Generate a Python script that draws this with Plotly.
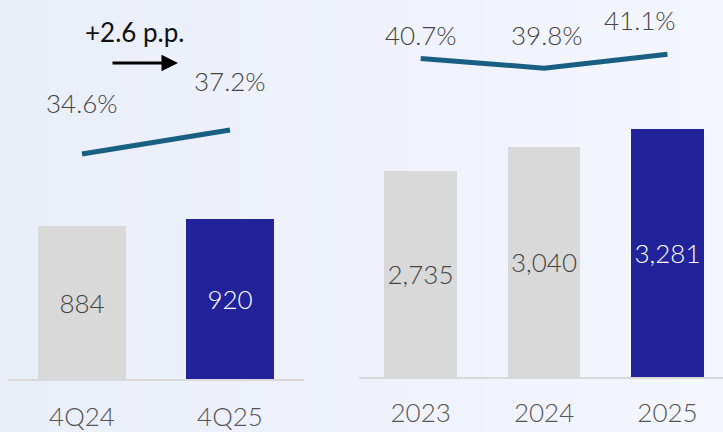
import plotly.graph_objects as go

# Quarterly figures
q_labels = ["4Q24", "4Q25"]
q_values = [884, 920]
q_margin = [34.6, 37.2]

# Annual figures
y_labels = ["2023", "2024", "2025"]
y_values = [2735, 3040, 3281]
y_margin = [40.7, 39.8, 41.1]

GRAY = "#D9D9D9"
BLUE = "#22239A"
LINE = "#195F83"
TEXT = "#444444"
FONT = "Lato"

W, H = 723, 432


def bar_colors(n):
    return [GRAY] * (n - 1) + [BLUE]


def text_colors(n):
    return [TEXT] * (n - 1) + ["#FFFFFF"]


fig = go.Figure()

# Quarterly panel
fig.add_trace(go.Bar(
    x=q_labels, y=q_values, xaxis="x", yaxis="y",
    marker=dict(color=bar_colors(len(q_values)), line=dict(width=0)),
    width=0.6,
    text=[f"{v:,}" for v in q_values], textposition="inside",
    insidetextanchor="middle", textangle=0, constraintext="none",
    textfont=dict(family=FONT, size=26, weight=300,
                  color=text_colors(len(q_values))),
    hoverinfo="skip",
))
fig.add_trace(go.Scatter(
    x=q_labels, y=q_margin, xaxis="x", yaxis="y2", mode="lines",
    line=dict(color=LINE, width=5), hoverinfo="skip",
))

# Annual panel
fig.add_trace(go.Bar(
    x=y_labels, y=y_values, xaxis="x3", yaxis="y3",
    marker=dict(color=bar_colors(len(y_values)), line=dict(width=0)),
    width=0.59,
    text=[f"{v:,}" for v in y_values], textposition="inside",
    insidetextanchor="middle", textangle=0, constraintext="none",
    textfont=dict(family=FONT, size=26, weight=300,
                  color=text_colors(len(y_values))),
    hoverinfo="skip",
))
fig.add_trace(go.Scatter(
    x=y_labels, y=y_margin, xaxis="x3", yaxis="y4", mode="lines",
    line=dict(color=LINE, width=5), hoverinfo="skip",
))

# Percentage labels above the margin lines (offsets in px)
q_offsets = [(0, 51), (0, 49)]
y_offsets = [(0, 24), (3, 33), (-27, 34)]
label_font = dict(family=FONT, size=26, weight=300, color=TEXT)
annotations = []
for i, (v, (dx, dy)) in enumerate(zip(q_margin, q_offsets)):
    annotations.append(dict(x=i, y=v, xref="x", yref="y2", text=f"{v:.1f}%",
                            showarrow=False, xshift=dx, yshift=dy,
                            xanchor="center", yanchor="middle",
                            font=label_font))
for i, (v, (dx, dy)) in enumerate(zip(y_margin, y_offsets)):
    annotations.append(dict(x=i, y=v, xref="x3", yref="y4", text=f"{v:.1f}%",
                            showarrow=False, xshift=dx, yshift=dy,
                            xanchor="center", yanchor="middle",
                            font=label_font))

# Change in quarterly margin
delta = q_margin[-1] - q_margin[0]
annotations.append(dict(x=134 / W, y=(H - 32) / H, xref="paper", yref="paper",
                        text=f"+{delta:.1f} p.p.", showarrow=False,
                        xanchor="center", yanchor="middle",
                        font=dict(family=FONT, size=26, weight=400,
                                  color="#111111")))
annotations.append(dict(x=178 / W, y=(H - 63) / H, xref="paper", yref="paper",
                        text="", showarrow=True, ax=-67, ay=0,
                        arrowhead=2, arrowsize=1.1, arrowwidth=3,
                        arrowcolor="#000000"))

# Soft horizontal background gradient
shapes = []
n_strips = 30
c0 = (0xEA, 0xEE, 0xF9)
c1 = (0xF4, 0xF6, 0xFD)
for i in range(n_strips):
    t = i / (n_strips - 1)
    c = tuple(round(a + (b - a) * t) for a, b in zip(c0, c1))
    shapes.append(dict(type="rect", xref="paper", yref="paper",
                       x0=i / n_strips, x1=(i + 1) / n_strips + 0.002, y0=0, y1=1,
                       fillcolor="rgb(%d,%d,%d)" % c, line=dict(width=0),
                       layer="below"))

axis_common = dict(showgrid=False, zeroline=False, fixedrange=True,
                   automargin=False)
xaxis_common = dict(axis_common, type="category", showline=True,
                    linecolor=GRAY, linewidth=2, ticks="",
                    tickfont=dict(family=FONT, size=26, weight=300,
                                  color="#555555"))

fig.update_layout(
    width=W, height=H,
    margin=dict(l=0, r=0, t=0, b=0),
    paper_bgcolor="#EFF2FA", plot_bgcolor="rgba(0,0,0,0)",
    showlegend=False, bargap=0,
    shapes=shapes, annotations=annotations,
    xaxis=dict(xaxis_common, domain=[8 / W, 304 / W], anchor="y",
               range=[-0.5, 1.5], ticklabelstandoff=14),
    yaxis=dict(axis_common, domain=[(H - 379) / H, 1], range=[0, 379 / 0.1735],
               visible=False),
    yaxis2=dict(axis_common, overlaying="y", anchor="x",
                range=[10.22, 51.28], visible=False),
    xaxis3=dict(xaxis_common, domain=[359 / W, 1], anchor="y3",
                range=[-0.5, 2.45], ticklabelstandoff=12),
    yaxis3=dict(axis_common, domain=[(H - 377) / H, 1], range=[0, 377 / 0.0755],
                visible=False),
    yaxis4=dict(axis_common, overlaying="y3", anchor="x3",
                range=[10.80, 46.20], visible=False),
)

fig.write_html("out.html")
